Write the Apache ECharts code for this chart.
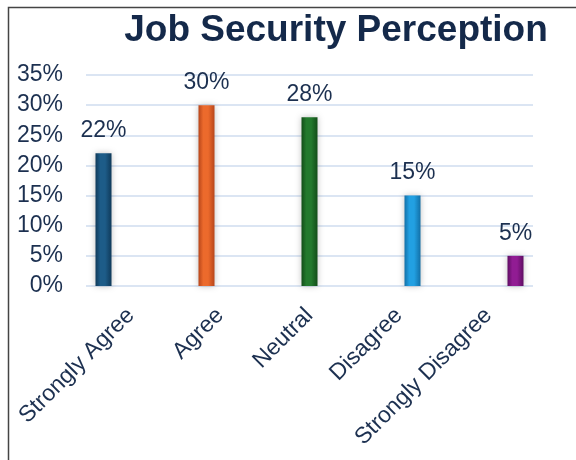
<!DOCTYPE html>
<html><head><meta charset="utf-8">
<script src="https://cdn.jsdelivr.net/npm/echarts@6/dist/echarts.min.js"></script>
<style>html,body{margin:0;padding:0;background:#fff}#c{width:576px;height:460px}</style>
</head><body><div id="c"></div>
<script>
const categories = ['Strongly Agree', 'Agree', 'Neutral', 'Disagree', 'Strongly Disagree'];
const values = [22, 30, 28, 15, 5];
const barColors = ['#1d5c88', '#ec6a2c', '#23792d', '#22a0e2', '#911c93'];
const edgeColors = ['#0f3a5a', '#b8461a', '#124d18', '#1270a8', '#5e0d62'];
const yTicks = [0, 5, 10, 15, 20, 25, 30, 35];

const chart = echarts.init(document.getElementById('c'));
const txt = '#1c3050';
const font = 'Liberation Sans, Arial, sans-serif';
chart.setOption({
  animation: false,
  title: {
    text: 'Job Security Perception', left: 331, top: 7, textAlign: 'center',
    textStyle: { fontFamily: font, fontSize: 37, fontWeight: 'bold', color: '#14294a' }
  },
  graphic: [{
    type: 'polyline', shape: { points: [[8.5, 470], [8.5, 7.5], [590, 7.5]] },
    style: { stroke: '#444', lineWidth: 1.5, fill: null }
  }],
  grid: [
    { left: 86, right: 43, top: 75, bottom: 174, outerBoundsMode: 'none', containLabel: false },
    { left: 52, right: 9, top: 75, bottom: 174, outerBoundsMode: 'none', containLabel: false }
  ],
  xAxis: [
    { gridIndex: 0, type: 'category', data: categories,
      axisLine: { show: false }, axisTick: { show: false },
      axisLabel: { rotate: 45, interval: 0, margin: 26, color: txt, fontSize: 23, fontFamily: font } },
    { gridIndex: 1, type: 'category', data: categories, show: false }
  ],
  yAxis: [
    { gridIndex: 0, type: 'value', min: 0, max: 35, interval: 5,
      axisLine: { show: false }, axisTick: { show: false },
      splitLine: { lineStyle: { color: '#cfdcef', width: 1.5 } },
      axisLabel: { margin: 23, padding: [6, 0, 0, 0], color: txt, fontSize: 23, fontFamily: font, formatter: v => v + '%' } },
    { gridIndex: 1, type: 'value', min: 0, max: 35, interval: 5, show: false }
  ],
  series: [{
    type: 'bar', xAxisIndex: 1, yAxisIndex: 1, barWidth: 16,
    data: values.map((v, i) => ({
      value: v,
      itemStyle: {
        color: new echarts.graphic.LinearGradient(0, 0, 1, 0, [
          { offset: 0, color: edgeColors[i] },
          { offset: 0.3, color: barColors[i] },
          { offset: 0.6, color: barColors[i] },
          { offset: 1, color: edgeColors[i] }
        ]),
        shadowColor: 'rgba(0,0,0,0.25)', shadowBlur: 6
      }
    })),
    label: { show: true, position: 'top', distance: 11, color: txt, fontSize: 23, fontFamily: font, formatter: p => p.value + '%' }
  }]
});
</script></body></html>
